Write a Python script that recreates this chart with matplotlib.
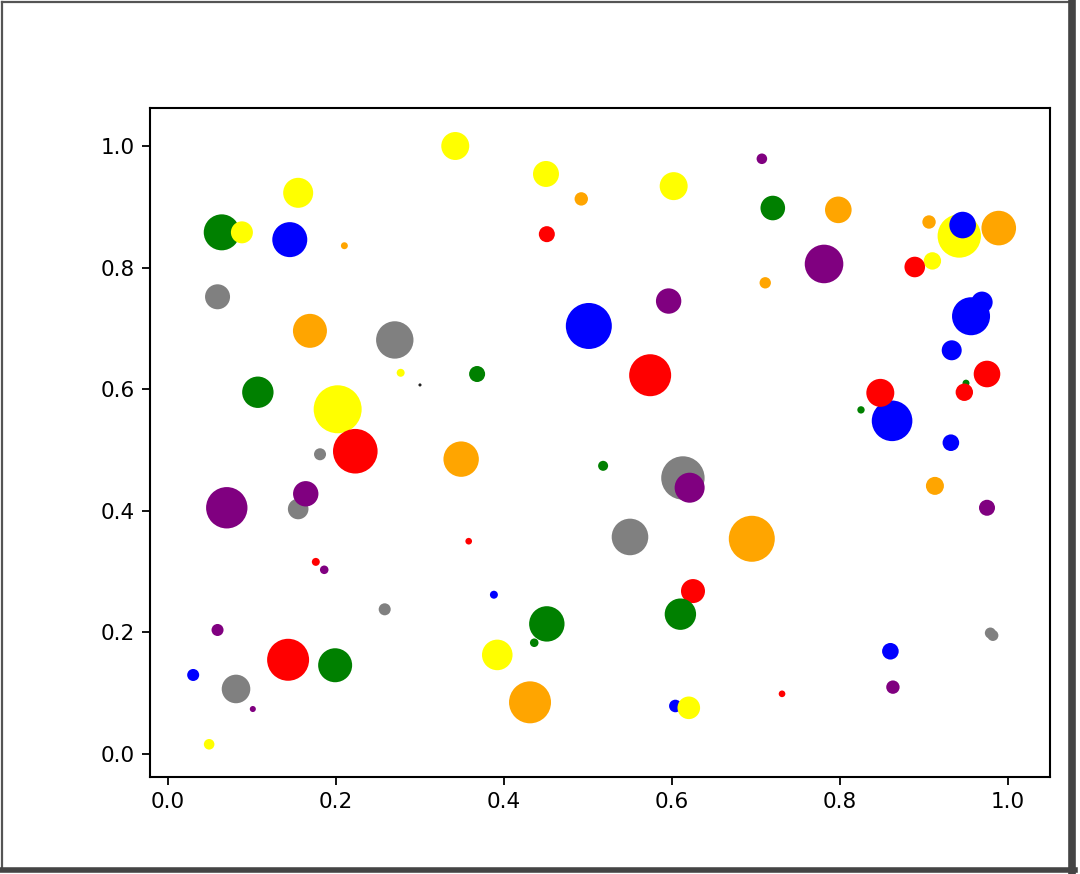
import matplotlib
matplotlib.use("Agg")
import matplotlib.pyplot as plt
from matplotlib.lines import Line2D

# ---- data ----
x_vals = [0.059, 0.064, 0.088, 0.155, 0.145, 0.210, 0.169, 0.270, 0.342, 0.450,
          0.492, 0.451, 0.602, 0.596, 0.501, 0.707, 0.720, 0.798, 0.906, 0.942,
          0.946, 0.989, 0.910, 0.889, 0.781, 0.711, 0.956, 0.969, 0.107, 0.202,
          0.223, 0.277, 0.300, 0.181, 0.155, 0.164, 0.070, 0.349, 0.368, 0.574,
          0.518, 0.613, 0.621, 0.550, 0.358, 0.695, 0.933, 0.950, 0.975, 0.948,
          0.862, 0.848, 0.825, 0.932, 0.913, 0.975, 0.176, 0.186, 0.258, 0.059,
          0.143, 0.199, 0.030, 0.081, 0.101, 0.049, 0.388, 0.451, 0.436, 0.392,
          0.431, 0.625, 0.610, 0.604, 0.620, 0.731, 0.860, 0.863, 0.979, 0.982]
y_vals = [0.752, 0.858, 0.858, 0.923, 0.846, 0.836, 0.696, 0.681, 1.000, 0.954,
          0.913, 0.855, 0.934, 0.745, 0.704, 0.979, 0.898, 0.895, 0.875, 0.852,
          0.870, 0.865, 0.811, 0.801, 0.806, 0.775, 0.720, 0.743, 0.595, 0.567,
          0.498, 0.627, 0.607, 0.493, 0.403, 0.428, 0.405, 0.485, 0.625, 0.623,
          0.474, 0.454, 0.438, 0.357, 0.350, 0.354, 0.664, 0.610, 0.625, 0.595,
          0.548, 0.594, 0.566, 0.512, 0.441, 0.405, 0.316, 0.303, 0.238, 0.204,
          0.155, 0.146, 0.130, 0.107, 0.074, 0.016, 0.262, 0.214, 0.183, 0.163,
          0.085, 0.268, 0.230, 0.079, 0.076, 0.099, 0.169, 0.110, 0.199, 0.195]
sizes = [324, 672, 251, 467, 635, 25, 599, 725, 406, 350,
         93, 133, 406, 334, 1097, 58, 314, 367, 93, 976,
         367, 621, 157, 220, 772, 67, 749, 237, 511, 1194,
         1031, 33, 5, 75, 220, 334, 888, 650, 133, 914,
         52, 976, 467, 694, 23, 1097, 207, 25, 367, 157,
         855, 406, 28, 143, 168, 133, 33, 38, 75, 75,
         914, 599, 75, 424, 19, 58, 33, 650, 38, 485,
         914, 299, 511, 82, 265, 23, 143, 93, 63, 63]
point_colors = ["gray", "green", "yellow", "yellow", "blue", "orange", "orange", "gray", "yellow", "yellow",
                "orange", "red", "yellow", "purple", "blue", "purple", "green", "orange", "orange", "yellow",
                "blue", "orange", "yellow", "red", "purple", "orange", "blue", "blue", "green", "yellow",
                "red", "yellow", "#222222", "gray", "gray", "purple", "purple", "orange", "green", "red",
                "green", "gray", "purple", "gray", "red", "orange", "blue", "green", "red", "red",
                "blue", "red", "green", "blue", "orange", "purple", "red", "purple", "gray", "purple",
                "red", "green", "blue", "gray", "purple", "yellow", "blue", "green", "green", "yellow",
                "orange", "red", "green", "blue", "yellow", "red", "blue", "purple", "gray", "gray"]
x_ticks = [0.0, 0.2, 0.4, 0.6, 0.8, 1.0]
y_ticks = [0.0, 0.2, 0.4, 0.6, 0.8, 1.0]

W, H = 1080, 874
fig = plt.figure(figsize=(W / 100, H / 100), dpi=100)
fig.patch.set_facecolor("white")

ax = fig.add_axes([150 / W, (H - 777) / H, 900 / W, 669 / H])
ax.scatter(x_vals, y_vals, s=sizes, c=point_colors, linewidths=0)

ax.set_xlim(-0.0214, 1.05)
ax.set_ylim(-0.0378, 1.0625)
ax.set_xticks(x_ticks)
ax.set_yticks(y_ticks)
ax.set_xticklabels([f"{t:.1f}" for t in x_ticks])
ax.set_yticklabels([f"{t:.1f}" for t in y_ticks])
ax.tick_params(labelsize=15.5, length=6, width=1.3, pad=5)
for sp in ax.spines.values():
    sp.set_linewidth(1.5)

# screenshot frame around the figure
def fl(x0, y0, x1, y1, lw, col):
    fig.add_artist(Line2D([x0 / W, x1 / W], [1 - y0 / H, 1 - y1 / H],
                          transform=fig.transFigure, lw=lw, color=col))

fl(2, 2, 1072, 2, 1.6, "#555555")
fl(2, 2, 2, 870, 1.6, "#555555")
fl(1072, 2, 1072, 872, 5.5, "#444444")
fl(2, 870, 1075, 870, 4, "#444444")

fig.savefig("out.png", dpi=100)
